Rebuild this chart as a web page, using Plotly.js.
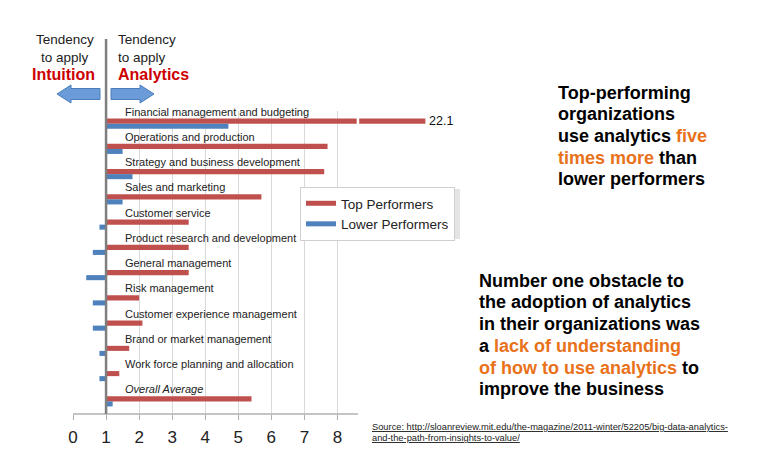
<!DOCTYPE html>
<html>
<head>
<meta charset="utf-8">
<script src="https://cdn.plot.ly/plotly-3.0.1.min.js"></script>
<style>
  html, body { margin: 0; padding: 0; background: #fff; }
  #chart { width: 776px; height: 475px; }
</style>
</head>
<body>
<div id="chart"></div>
<script>
// ---------- DATA ----------
const categories = [
  "Financial management and budgeting",
  "Operations and production",
  "Strategy and business development",
  "Sales and marketing",
  "Customer service",
  "Product research and development",
  "General management",
  "Risk management",
  "Customer experience management",
  "Brand or market management",
  "Work force planning and allocation",
  "Overall Average"
];
const topPerformers   = [22.1, 7.7, 7.6, 5.7, 3.5, 3.5, 3.5, 2.0, 2.1, 1.7, 1.4, 5.4];
const lowerPerformers = [4.7, 1.5, 1.8, 1.5, 0.8, 0.6, 0.4, 0.6, 0.6, 0.8, 0.8, 1.2];
const seriesNames = ["Top Performers", "Lower Performers"];
const xTickVals = [0, 1, 2, 3, 4, 5, 6, 7, 8];
const xTickText = ["0", "1", "2", "3", "4", "5", "6", "7", "8"];
const baseline = 1;          // bars grow from the "1" line
const axisBreakAt = 8.62;    // where the broken bar is cut
const brokenBarEnd = 10.66;  // where a value beyond the axis is drawn to

// ---------- LAYOUT GEOMETRY ----------
const W = 776, H = 475;
const M = { l: 73, r: 346, t: 111, b: 61 };
const PW = W - M.l - M.r, PH = H - M.t - M.b;
const px = x => (x - M.l) / PW;
const py = y => (H - M.b - y) / PH;

const RED = "#c0504d", BLUE = "#4f81bd", ORANGE = "#e8711a";
const FONT = "Liberation Sans, Arial, sans-serif";

const drawn = v => Math.min(v, brokenBarEnd) - baseline;

const traces = [
  {
    type: "bar", orientation: "h", name: seriesNames[0],
    y: categories, x: topPerformers.map(drawn), base: baseline,
    marker: { color: RED }, showlegend: false, hoverinfo: "skip"
  },
  {
    type: "bar", orientation: "h", name: seriesNames[1],
    y: categories, x: lowerPerformers.map(drawn), base: baseline,
    marker: { color: BLUE }, showlegend: false, hoverinfo: "skip"
  },
  { type: "scatter", mode: "lines", name: seriesNames[0], x: [null], y: [null],
    line: { color: RED, width: 5 }, hoverinfo: "skip" },
  { type: "scatter", mode: "lines", name: seriesNames[1], x: [null], y: [null],
    line: { color: BLUE, width: 5 }, hoverinfo: "skip" }
];

const annotations = [];
// category labels above each pair of bars
categories.forEach((c, i) => {
  annotations.push({
    xref: "x", yref: "y", x: 1.5, y: i, yshift: 12,
    xanchor: "left", yanchor: "middle", showarrow: false,
    text: c === "Overall Average" ? "<i>" + c + "</i>" : c,
    font: { family: FONT, size: 11, color: "#222" }
  });
});
// value label for the broken bar
topPerformers.forEach((v, i) => {
  if (v > brokenBarEnd) {
    annotations.push({
      xref: "x", yref: "y", x: brokenBarEnd, y: i, yshift: 2.5, xshift: 2,
      xanchor: "left", yanchor: "middle", showarrow: false,
      text: String(v), font: { family: FONT, size: 12.5, color: "#111" }
    });
  }
});

function textLine(x, y, text, size, opts) {
  annotations.push(Object.assign({
    xref: "paper", yref: "paper", x: px(x), y: py(y),
    xanchor: "left", yanchor: "middle", showarrow: false, text: text,
    font: { family: FONT, size: size, color: "#222" }
  }, opts || {}));
}
// intuition / analytics captions
textLine(65, 39.5, "Tendency", 13.5, { xanchor: "center" });
textLine(65, 57, "to apply", 13.5, { xanchor: "center" });
textLine(63, 75, "<b>Intuition</b>", 16, { xanchor: "center", font: { family: FONT, size: 16, color: "#cc0000" } });
textLine(115.5, 39.5, "Tendency", 13.5);
textLine(115.5, 57, "to apply", 13.5);
textLine(115.5, 75, "<b>Analytics</b>", 16, { font: { family: FONT, size: 16, color: "#cc0000" } });

// right-hand text blocks
const o = s => '<span style="color:' + ORANGE + '">' + s + '</span>';
const block1 = ["Top-performing", "organizations", "use analytics " + o("five"), o("times more") + " than", "lower performers"];
block1.forEach((t, i) => textLine(556, 92.7 + i * 21.6, "<b>" + t + "</b>", 18, { font: { family: FONT, size: 18, color: "#000" } }));
const block2 = ["Number one obstacle to", "the adoption of analytics", "in their organizations was", "a " + o("lack of understanding"), o("of how to use analytics") + " to", "improve the business"];
block2.forEach((t, i) => textLine(477, 280.7 + i * 21.7, "<b>" + t + "</b>", 18, { font: { family: FONT, size: 18, color: "#000" } }));

// source
const u = s => '<span style="text-decoration:underline">' + s + '</span>';
textLine(370, 427, u("Source: http://sloanreview.mit.edu/the-magazine/2011-winter/52205/big-data-analytics-"), 9.3, { font: { family: FONT, size: 9.3, color: "#222" } });
textLine(370, 437.5, u("and-the-path-from-insights-to-value/"), 9.3, { font: { family: FONT, size: 9.3, color: "#222" } });

// arrows
function arrowPath(tipX, baseX, endX, cy, shaftH, headH) {
  const P = (x, y) => px(x) + "," + py(y);
  return "M" + P(tipX, cy) + " L" + P(baseX, cy - headH / 2) + " L" + P(baseX, cy - shaftH / 2) +
         " L" + P(endX, cy - shaftH / 2) + " L" + P(endX, cy + shaftH / 2) +
         " L" + P(baseX, cy + shaftH / 2) + " L" + P(baseX, cy + headH / 2) + " Z";
}
const shapes = [
  { type: "path", xref: "paper", yref: "paper", path: arrowPath(57, 71, 100, 94, 11, 18),
    fillcolor: "#6b9bd8", line: { color: "#4a7ebb", width: 1 } },
  { type: "path", xref: "paper", yref: "paper", path: arrowPath(154, 140, 111, 94, 11, 18),
    fillcolor: "#6b9bd8", line: { color: "#4a7ebb", width: 1 } },
  // legend shadow
  { type: "rect", xref: "paper", yref: "paper", x0: px(303), x1: px(460), y0: py(189), y1: py(239),
    fillcolor: "#e4e4e4", line: { width: 0 }, layer: "above" },
  // bottom axis line
  { type: "line", xref: "x", yref: "paper", x0: 0, x1: axisBreakAt, y0: 0, y1: 0,
    line: { color: "#b0b0b0", width: 1.5 } },
  // baseline at 1
  { type: "line", xref: "x", yref: "paper", x0: baseline, x1: baseline, y0: 0, y1: py(39),
    line: { color: "#7f7f7f", width: 2.5 }, layer: "above" },
  // break in the long bar
  { type: "line", xref: "x", yref: "y", x0: axisBreakAt, x1: axisBreakAt, y0: -0.27, y1: 0.03,
    line: { color: "#ffffff", width: 2.5 }, layer: "above" }
];

const layout = {
  width: W, height: H,
  margin: M,
  paper_bgcolor: "#fff", plot_bgcolor: "#fff",
  font: { family: FONT, color: "#222" },
  barmode: "group", bargap: 0.6, bargroupgap: 0,
  xaxis: {
    range: [0, 10.8], tickvals: xTickVals, ticktext: xTickText,
    showgrid: true, gridcolor: "#d9d9d9", gridwidth: 1, zeroline: false, showline: false,
    ticks: "outside", ticklen: 5, tickcolor: "#b0b0b0", ticklabelstandoff: 3,
    tickfont: { family: FONT, size: 17, color: "#222" }, fixedrange: true
  },
  yaxis: {
    type: "category", range: [11.5, -0.5], showticklabels: false,
    showgrid: false, zeroline: false, showline: false, ticks: "", fixedrange: true
  },
  legend: {
    x: px(300), y: py(187), xanchor: "left", yanchor: "top",
    bgcolor: "#fff", bordercolor: "#d0d0d0", borderwidth: 1,
    font: { family: FONT, size: 13.5, color: "#222" }, tracegroupgap: 0
  },
  showlegend: true,
  annotations: annotations,
  shapes: shapes
};

Plotly.newPlot("chart", traces, layout, { displayModeBar: false, staticPlot: true });
</script>
</body>
</html>
